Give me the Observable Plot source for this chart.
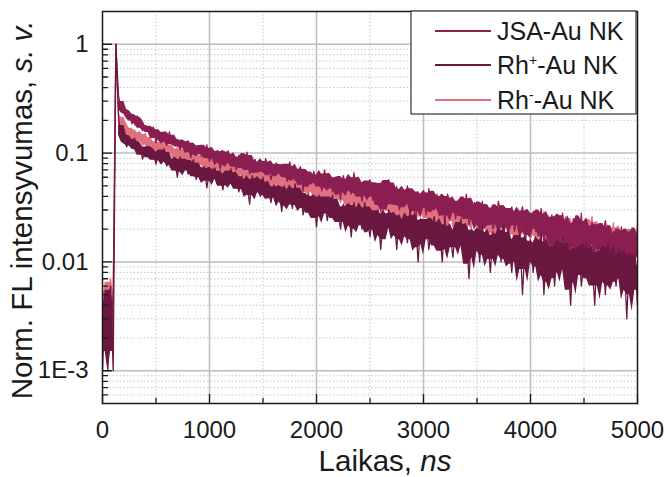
<!DOCTYPE html>
<html><head><meta charset="utf-8">
<script src="https://cdn.jsdelivr.net/npm/d3@7"></script>
<script src="https://cdn.jsdelivr.net/npm/@observablehq/plot@0.6"></script>
<style>body{margin:0;background:#fff}</style>
</head><body><div id="chart"></div>
<script>
// ---- series ----
const seriesNames = ["JSA-Au NK", "Rh+-Au NK", "Rh−-Au NK"];
const seriesColors = ["#8b1f52", "#6a1840", "#e07080"];

// time sampling (ns)
const preTimes = [0, 25, 50, 75, 100, 125];      // before and at the excitation peak
const decayStart = 150, decayStep = 25;           // decay part: 150, 175, ... 5000 ns

// intensities in units of 1e-3 (normalized FL × 1000)
const jsaPre = [2, 4, 1, 3, 5, 1000];
const jsaDecay = [
  337, 242, 260, 225, 231, 186, 206, 220, 178, 161,
  179, 167, 148, 173, 124, 152, 155, 134, 118, 157,
  121, 129, 134, 107, 125, 114, 130, 91, 116, 101,
  117, 94, 100, 119, 84, 102, 92, 106, 70, 100,
  84, 105, 78, 88, 70, 96, 87, 74, 102, 64,
  75, 88, 66, 78, 67, 89, 72, 57, 76, 81,
  64, 67, 75, 55, 83, 61, 56, 67, 75, 45,
  66, 58, 52, 68, 53, 58, 45, 70, 50, 59,
  44, 60, 53, 38, 62, 48, 53, 42, 66, 43,
  53, 36, 54, 45, 57, 37, 42, 50, 29, 55,
  31, 57, 36, 44, 49, 30, 41, 33, 50, 35,
  44, 23, 44, 35, 39, 27, 47, 35, 30, 42,
  31, 38, 22, 42, 31, 35, 25, 37, 32, 27,
  42, 22, 27, 35, 32, 17, 36, 23, 29, 31,
  20, 24, 36, 27, 17, 30, 24, 32, 19, 26,
  24, 32, 14, 27, 21, 29, 19, 22, 31, 15,
  24, 20, 27, 10, 25, 18, 28, 15, 20, 12,
  25, 20, 15, 28, 10, 19, 13, 23, 16, 21,
  10, 17, 24, 14, 11, 19, 16, 12, 21, 7,
  17, 19, 13, 9, 22
];
const rhPlusPre = [1, 5, 2, 6, 1, 1000];
const rhPlusDecay = [
  207, 139, 152, 114, 129, 118, 137, 103, 112, 88,
  113, 115, 93, 101, 79, 104, 90, 110, 76, 92,
  77, 84, 60, 92, 73, 84, 64, 74, 87, 57,
  72, 62, 75, 48, 69, 62, 73, 53, 63, 46,
  65, 55, 72, 49, 59, 44, 62, 48, 52, 34,
  62, 47, 54, 40, 60, 41, 47, 35, 51, 42,
  47, 29, 50, 36, 42, 31, 52, 35, 43, 27,
  37, 42, 29, 38, 21, 41, 31, 38, 24, 34,
  41, 26, 30, 20, 34, 26, 31, 17, 35, 23,
  28, 20, 35, 25, 17, 29, 22, 30, 13, 25,
  19, 30, 22, 26, 13, 27, 19, 22, 15, 30,
  17, 23, 10, 25, 19, 24, 13, 20, 26, 15,
  20, 10, 24, 16, 18, 11, 21, 16, 25, 12,
  19, 7, 20, 15, 18, 10, 21, 13, 16, 8,
  19, 13, 17, 10, 22, 11, 15, 8, 17, 12,
  18, 5, 15, 12, 16, 8, 14, 10, 18, 5,
  12, 8, 15, 6, 13, 10, 17, 7, 12, 4,
  13, 9, 14, 6, 10, 15, 8, 11, 4, 13,
  8, 12, 5, 15, 7, 10, 6, 13, 8, 11,
  3, 12, 7, 11, 4
];
const rhMinusPre = [3, 6, 2, 7, 4, 1000];
const rhMinusDecay = [
  228, 198, 152, 176, 157, 127, 163, 136, 145, 118,
  152, 118, 125, 98, 129, 111, 120, 94, 127, 105,
  92, 106, 112, 75, 104, 87, 93, 106, 77, 91,
  81, 102, 74, 87, 65, 90, 78, 69, 93, 72,
  81, 53, 84, 66, 73, 59, 82, 65, 70, 53,
  82, 57, 66, 54, 70, 58, 66, 45, 69, 59,
  51, 65, 40, 58, 49, 65, 44, 51, 57, 40,
  54, 47, 62, 41, 49, 35, 53, 42, 49, 29,
  53, 39, 44, 35, 53, 38, 44, 29, 46, 38,
  44, 30, 50, 33, 38, 25, 45, 33, 40, 29,
  44, 35, 29, 40, 21, 36, 31, 43, 26, 34,
  23, 36, 29, 43, 27, 35, 23, 31, 38, 24,
  32, 18, 35, 26, 32, 21, 27, 35, 23, 37,
  18, 28, 25, 31, 21, 29, 18, 34, 24, 27,
  13, 30, 21, 28, 19, 31, 22, 24, 14, 27,
  19, 32, 17, 24, 21, 27, 14, 24, 19, 29,
  16, 20, 10, 25, 18, 23, 14, 26, 19, 15,
  24, 10, 20, 17, 23, 14, 19, 26, 12, 20,
  15, 21, 10, 18, 15, 23, 12, 18, 10, 20,
  14, 19, 11, 20, 16
];

// ---- axes ----
const xTicks = [0, 1000, 2000, 3000, 4000, 5000];
const xTickLabels = ["0", "1000", "2000", "3000", "4000", "5000"];
const xMinor = [500, 1500, 2500, 3500, 4500];
const yTicks = [0.001, 0.01, 0.1, 1];
const yTickLabels = ["1E-3", "0.01", "0.1", "1"];
const yMinor = [0.0006, 0.0007, 0.0008, 0.0009,
  0.002, 0.003, 0.004, 0.005, 0.006, 0.007, 0.008, 0.009,
  0.02, 0.03, 0.04, 0.05, 0.06, 0.07, 0.08, 0.09,
  0.2, 0.3, 0.4, 0.5, 0.6, 0.7, 0.8, 0.9];
const xTitle = "Laikas, ", xTitleItalic = "ns";
const yTitle = "Norm. FL intensyvumas, ", yTitleItalic = "s. v.";

// ---- build table ----
function build(name, pre, decay) {
  const out = [];
  pre.forEach((c, i) => out.push({series: name, seg: i < pre.length - 1 ? "pre" : "peak", t: preTimes[i], v: c / 1000}));
  decay.forEach((c, i) => out.push({series: name, seg: "decay", t: decayStart + decayStep * i, v: c / 1000}));
  // spread of the neighbouring samples (same segment) -> filled noise band
  out.forEach((d, i) => {
    const nb = [out[i - 2], out[i - 1], d, out[i + 1], out[i + 2]]
      .filter(e => e && e.seg === d.seg).map(e => e.v).sort((a, b) => a - b);
    const n = nb.length;
    d.lo = n > 1 ? (nb[0] + nb[1]) / 2 : nb[0];
    d.hi = n > 1 ? (nb[n - 1] + nb[n - 2]) / 2 : nb[0];
  });
  return out;
}
const jsa = build(seriesNames[0], jsaPre, jsaDecay);
const rhPlus = build(seriesNames[1], rhPlusPre, rhPlusDecay);
const rhMinus = build(seriesNames[2], rhMinusPre, rhMinusDecay);

const tickShape = {draw(ctx, l) { ctx.moveTo(0, 0); ctx.lineTo(0, -l); }};
const lw = 1.3;
function bandMark(rows, color) {
  return Plot.areaY(rows.filter(d => d.seg !== "peak"), {x: "t", y1: "lo", y2: "hi", z: "seg", fill: color, fillOpacity: 1, curve: "linear"});
}
function lineMark(rows, color) {
  return Plot.line(rows, {x: "t", y: "v", stroke: color, strokeWidth: lw});
}

const svg = Plot.plot({
  width: 667, height: 477,
  marginLeft: 102, marginRight: 30, marginTop: 11, marginBottom: 74,
  style: {fontFamily: "'Liberation Sans', Arial, sans-serif", background: "#fff", color: "#1a1a1a"},
  x: {type: "linear", domain: [0, 5000]},
  y: {type: "log", domain: [5e-4, 2]},
  marks: [
    Plot.gridX(xMinor, {stroke: "#c8c8c8", strokeOpacity: 1, strokeWidth: 1, strokeDasharray: "1.5,2"}),
    Plot.gridY(yMinor, {stroke: "#c8c8c8", strokeOpacity: 1, strokeWidth: 1, strokeDasharray: "1.5,2"}),
    Plot.gridX(xTicks.slice(1, -1), {stroke: "#bdbdbd", strokeOpacity: 1, strokeWidth: 1.5}),
    Plot.gridY(yTicks, {stroke: "#bdbdbd", strokeOpacity: 1, strokeWidth: 1.5}),
    bandMark(rhMinus, seriesColors[2]), lineMark(rhMinus, seriesColors[2]),
    bandMark(jsa, seriesColors[0]), lineMark(jsa, seriesColors[0]),
    bandMark(rhPlus, seriesColors[1]), lineMark(rhPlus, seriesColors[1]),
    Plot.vector(xTicks, {x: d => d, frameAnchor: "bottom", length: 9, rotate: 0, anchor: "start", shape: tickShape, stroke: "#1a1a1a", strokeWidth: 1.3}),
    Plot.vector(xMinor, {x: d => d, frameAnchor: "bottom", length: 5, rotate: 0, anchor: "start", shape: tickShape, stroke: "#1a1a1a", strokeWidth: 1.3}),
    Plot.vector(yTicks, {y: d => d, frameAnchor: "left", length: 9, rotate: 90, anchor: "start", shape: tickShape, stroke: "#1a1a1a", strokeWidth: 1.3}),
    Plot.vector(yMinor, {y: d => d, frameAnchor: "left", length: 5, rotate: 90, anchor: "start", shape: tickShape, stroke: "#1a1a1a", strokeWidth: 1.3}),
    Plot.axisX(xTicks, {tickSize: 0, tickPadding: 17, fontSize: 24, label: null,
      tickFormat: d => xTickLabels[xTicks.indexOf(d)]}),
    Plot.axisY(yTicks, {tickSize: 0, tickPadding: 14, fontSize: 24, label: null,
      tickFormat: d => yTickLabels[yTicks.indexOf(d)]}),
    Plot.frame({stroke: "#1a1a1a", strokeWidth: 1.5})
  ]
});
document.getElementById("chart").appendChild(svg);

const s = d3.select(svg);
const ff = "'Liberation Sans', Arial, sans-serif";
// axis titles
const xt = s.append("text").attr("x", 385).attr("y", 471).attr("text-anchor", "middle")
  .attr("font-family", ff).attr("font-size", 29.5).attr("fill", "#1a1a1a");
xt.append("tspan").text(xTitle);
xt.append("tspan").attr("font-style", "italic").text(xTitleItalic);
const yt = s.append("text").attr("transform", "translate(32,210) rotate(-90)").attr("text-anchor", "middle")
  .attr("font-family", ff).attr("font-size", 29.5).attr("fill", "#1a1a1a");
yt.append("tspan").text(yTitle);
yt.append("tspan").attr("font-style", "italic").text(yTitleItalic);

// legend
const lg = s.append("g").attr("text-anchor", "start");
lg.append("rect").attr("x", 411).attr("y", 11).attr("width", 225).attr("height", 103)
  .attr("fill", "#fff").attr("stroke", "#333").attr("stroke-width", 1.2);
const legendText = [["JSA-Au NK", null, ""], ["Rh", "+", "-Au NK"], ["Rh", "-", "-Au NK"]];
const legendY = [31, 65, 100];
legendText.forEach((parts, i) => {
  const y = legendY[i];
  lg.append("line").attr("x1", 435).attr("x2", 491).attr("y1", y).attr("y2", y)
    .attr("stroke", seriesColors[i]).attr("stroke-width", 2);
  const t = lg.append("text").attr("x", 497).attr("y", y + 8.5).attr("font-family", ff)
    .attr("text-anchor", "start").attr("font-size", 25).attr("fill", "#1a1a1a");
  t.append("tspan").text(parts[0]);
  if (parts[1]) {
    t.append("tspan").attr("dy", -9).attr("font-size", 14).text(parts[1]);
    t.append("tspan").attr("dy", 9).text(parts[2]);
  }
});
</script>
</body></html>
